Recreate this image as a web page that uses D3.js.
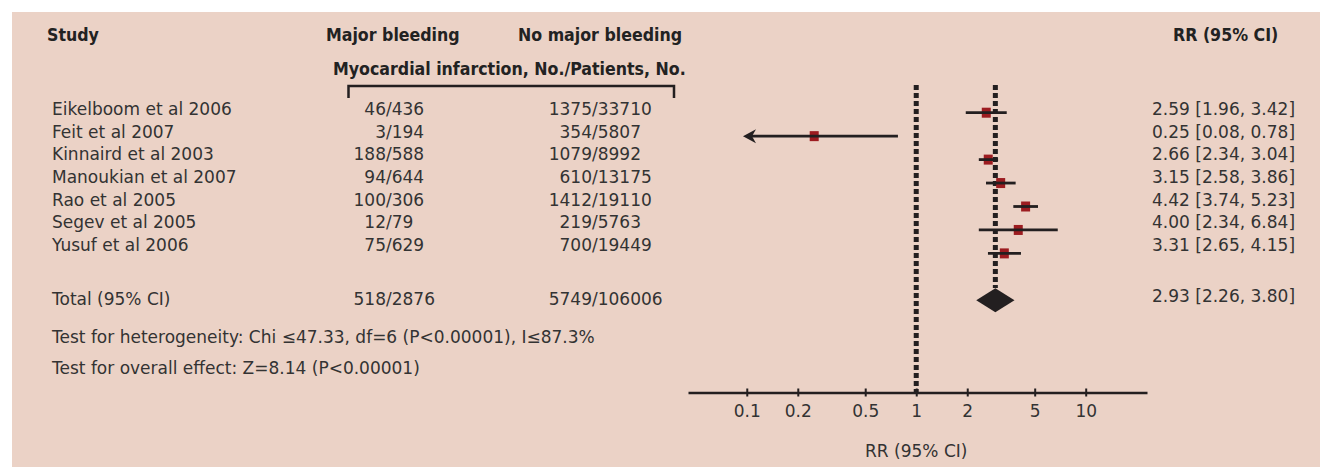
<!DOCTYPE html>
<meta charset="utf-8">
<style>
body { margin: 0; background: #fff; }
svg { display: block; }
text { font-family: "DejaVu Sans", sans-serif; font-size: 17px; fill: #333; }
.head { font-family: "DejaVu Sans Condensed", "DejaVu Sans", sans-serif; font-stretch: condensed; font-weight: bold; font-size: 17.6px; fill: #222; }
</style>
<body>
<script src="https://d3js.org/d3.v7.min.js"></script>
<script>
// study rows
const studies = ["Eikelboom et al 2006", "Feit et al 2007", "Kinnaird et al 2003", "Manoukian et al 2007",
                 "Rao et al 2005", "Segev et al 2005", "Yusuf et al 2006"];
const majorBleeding = ["46/436", "3/194", "188/588", "94/644", "100/306", "12/79", "75/629"];
const noMajorBleeding = ["1375/33710", "354/5807", "1079/8992", "610/13175", "1412/19110", "219/5763", "700/19449"];
const rr = [2.59, 0.25, 2.66, 3.15, 4.42, 4.00, 3.31];
const rrLow = [1.96, 0.08, 2.34, 2.58, 3.74, 2.34, 2.65];
const rrHigh = [3.42, 0.78, 3.04, 3.86, 5.23, 6.84, 4.15];

// pooled
const totalMajor = "518/2876";
const totalNoMajor = "5749/106006";
const pooled = {rr: 2.93, low: 2.26, high: 3.80};

const ticks = [0.1, 0.2, 0.5, 1, 2, 5, 10];
const clipLow = 0.095;   // left end of the drawn CI range (arrow beyond)

const fmt = d3.format(".2f");
const ciText = (r, l, h) => fmt(r) + " [" + fmt(l) + ", " + fmt(h) + "]";

const width = 1320, height = 467;
const ink = "#231f20";

const svg = d3.select("body").append("svg")
    .attr("width", width)
    .attr("height", height);

svg.append("rect")
    .attr("x", 12).attr("y", 12)
    .attr("width", width - 12).attr("height", height - 12)
    .attr("fill", "#ebd2c6");

// text rows (table) and plot rows (markers)
const rowY = d3.scaleLinear().domain([0, 6]).range([115, 251]);
const plotY = d3.scaleLinear().domain([0, 8]).range([112.7, 300.3]);
const x = d3.scaleLog().domain([0.045, 23]).range([688, 1147]);

// headers
const head = svg.append("g");
head.append("text").attr("class", "head").attr("x", 47).attr("y", 41).text("Study");
head.append("text").attr("class", "head").attr("x", 326).attr("y", 41).text("Major bleeding");
head.append("text").attr("class", "head").attr("x", 518).attr("y", 41).text("No major bleeding");
head.append("text").attr("class", "head").attr("x", 1173).attr("y", 41).text("RR (95% CI)");
head.append("text").attr("class", "head").attr("x", 333).attr("y", 75)
    .text("Myocardial infarction, No./Patients, No.");

svg.append("path")
    .attr("d", "M348.5,98V86H674V98")
    .attr("fill", "none")
    .attr("stroke", ink)
    .attr("stroke-width", 2.5);

// slash-aligned counts
function fraction(g, s, slashX, y) {
  const parts = s.split("/");
  g.append("text").attr("x", slashX).attr("y", y).attr("text-anchor", "end").text(parts[0]);
  g.append("text").attr("x", slashX).attr("y", y).text("/" + parts[1]);
}

const table = svg.append("g");
studies.forEach((s, i) => {
  const y = rowY(i);
  table.append("text").attr("x", 52).attr("y", y).text(s);
  fraction(table, majorBleeding[i], 386, y);
  fraction(table, noMajorBleeding[i], 592, y);
  table.append("text").attr("x", 1152).attr("y", y).text(ciText(rr[i], rrLow[i], rrHigh[i]));
});

table.append("text").attr("x", 52).attr("y", 305).text("Total (95% CI)");
fraction(table, totalMajor, 386, 305);
fraction(table, totalNoMajor, 592, 305);
table.append("text").attr("x", 1152).attr("y", 302).text(ciText(pooled.rr, pooled.low, pooled.high));

table.append("text").attr("x", 52).attr("y", 343)
    .text("Test for heterogeneity: Chi \u226447.33, df=6 (P<0.00001), I\u226487.3%");
table.append("text").attr("x", 52).attr("y", 374)
    .text("Test for overall effect: Z=8.14 (P<0.00001)");

// reference lines
svg.append("line")
    .attr("x1", x(1)).attr("x2", x(1))
    .attr("y1", 85).attr("y2", 392)
    .attr("stroke", ink).attr("stroke-width", 5).attr("stroke-dasharray", "5,3");
svg.append("line")
    .attr("x1", x(pooled.rr)).attr("x2", x(pooled.rr))
    .attr("y1", 85).attr("y2", 288)
    .attr("stroke", ink).attr("stroke-width", 5).attr("stroke-dasharray", "5,3");

// axis
const gx = svg.append("g")
    .attr("transform", "translate(0,392.5)")
    .call(d3.axisBottom(x).tickValues(ticks).tickFormat(d3.format("~g"))
      .tickSize(4).tickSizeOuter(0).tickPadding(8));
gx.select(".domain").attr("stroke", ink).attr("stroke-width", 2.5);
gx.selectAll(".tick line").attr("y1", -4).attr("stroke", ink).attr("stroke-width", 2);
svg.append("text").attr("x", x(1)).attr("y", 457).attr("text-anchor", "middle").text("RR (95% CI)");

// markers
const plot = svg.append("g");
plot.selectAll(".sq").data(rr).join("rect")
    .attr("class", "sq")
    .attr("x", d => x(d) - 4.5)
    .attr("y", (d, i) => plotY(i) - 5)
    .attr("width", 9).attr("height", 10)
    .attr("fill", "#9c1c20");

plot.selectAll(".ci").data(rr).join("line")
    .attr("class", "ci")
    .attr("x1", (d, i) => rrLow[i] < clipLow ? x(clipLow) + 9 : x(rrLow[i]))
    .attr("x2", (d, i) => x(rrHigh[i]))
    .attr("y1", (d, i) => plotY(i)).attr("y2", (d, i) => plotY(i))
    .attr("stroke", ink).attr("stroke-width", 2.8);

rr.forEach((d, i) => {
  if (rrLow[i] >= clipLow) return;
  const tx = x(clipLow), y = plotY(i);
  plot.append("path")
      .attr("d", `M${tx},${y}L${tx + 13},${y - 7}L${tx + 9},${y}L${tx + 13},${y + 7}Z`)
      .attr("fill", ink);
});

const yd = plotY(8);
plot.append("path")
    .attr("d", `M${x(pooled.low)},${yd}L${x(pooled.rr)},${yd - 12}L${x(pooled.high)},${yd}L${x(pooled.rr)},${yd + 12}Z`)
    .attr("fill", ink);
</script>
